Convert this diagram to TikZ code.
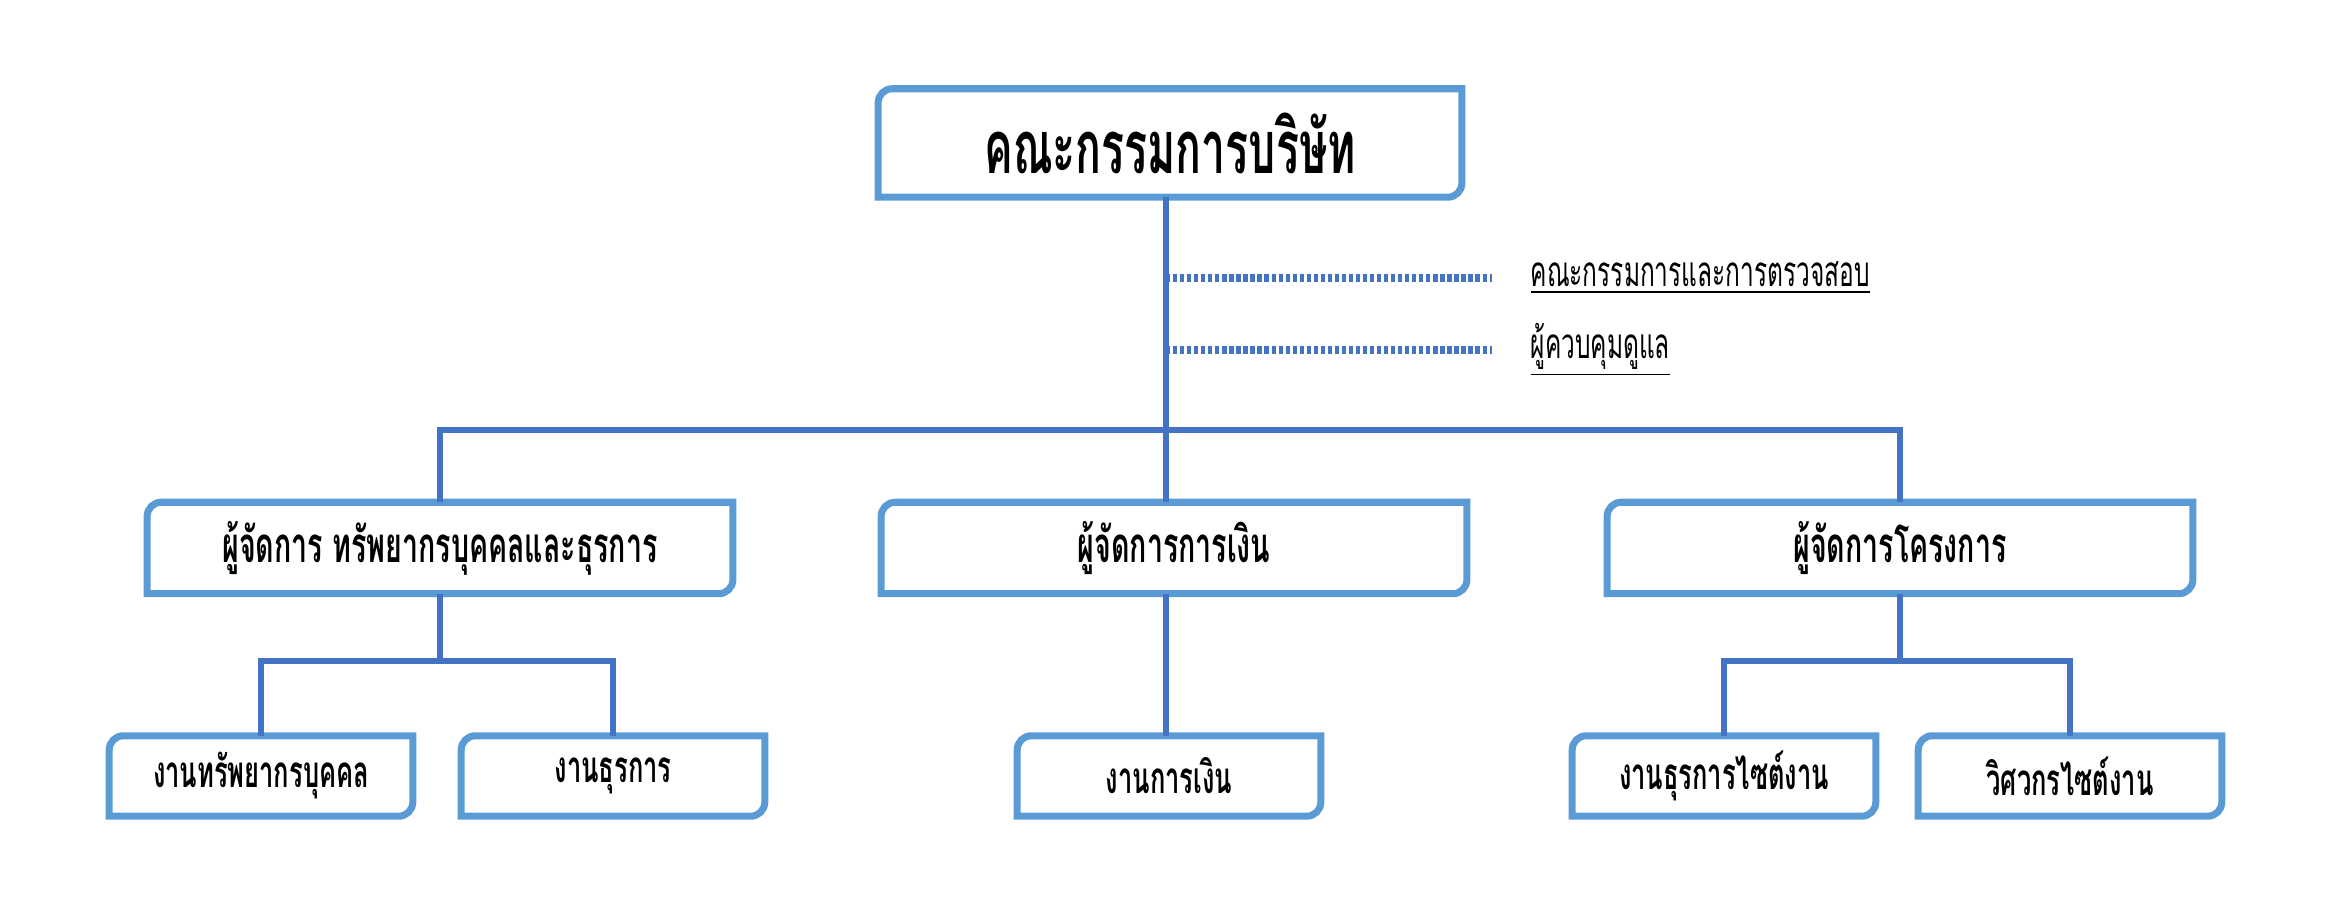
\documentclass[tikz,border=0pt]{standalone}
\usepackage{fontspec}
\usepackage{tikz}
\newfontfamily\thaifont[Script=Thai,FakeStretch=0.58]{Loma}
\definecolor{framecol}{HTML}{5B9BD5}
\definecolor{linkcol}{HTML}{4472C4}

\newcommand{\cutbox}[1]{\draw[frame] (#1.north east) -- ([yshift=4pt]#1.south east)
  arc[start angle=0,end angle=-90,radius=4pt] -- (#1.south west) -- ([yshift=-4pt]#1.north west)
  arc[start angle=180,end angle=90,radius=4pt] -- cycle;}

\begin{document}
\begin{tikzpicture}[x=0.01cm, y=0.01cm,
  frame/.style={draw=framecol, line width=2pt, line join=miter},
  link/.style={draw=linkcol, line width=1.6pt},
  dots/.style={draw=linkcol, line width=2pt, dash pattern=on 1.2pt off 0.8pt},
  topbox/.style={minimum width=5.82cm, minimum height=1.07cm, inner sep=0pt, font=\thaifont\bfseries\fontsize{21}{25}\selectfont},
  midbox/.style={minimum width=5.84cm, minimum height=0.90cm, inner sep=0pt, font=\thaifont\bfseries\fontsize{14}{17}\selectfont},
  lowbox/.style={minimum width=3.02cm, minimum height=0.79cm, inner sep=0pt, font=\thaifont\bfseries\fontsize{12.5}{15}\selectfont},
  note/.style={anchor=west, inner sep=0pt, font=\thaifont\fontsize{12}{14}\selectfont}]
 \useasboundingbox (0,0) rectangle (2339,900);
 % boxes
 \node[topbox] (board) at (1170,757) {คณะกรรมการบริษัท};
 \node[midbox] (hr) at (440,352) {ผู้จัดการ ทรัพยากรบุคคลและธุรการ};
 \node[midbox] (fin) at (1174,352) {ผู้จัดการการเงิน};
 \node[midbox] (proj) at (1900,352) {ผู้จัดการโครงการ};
 \node[lowbox] (hrw) at (261,124) {งานทรัพยากรบุคคล};
 \node[lowbox] (adm) at (613,124) {งานธุรการ};
 \node[lowbox] (finw) at (1169,124) {งานการเงิน};
 \node[lowbox] (site) at (1724,124) {งานธุรการไซต์งาน};
 \node[lowbox] (eng) at (2070,124) {วิศวกรไซต์งาน};
 \foreach \n in {board,hr,fin,proj,hrw,adm,finw,site,eng} {\cutbox{\n}}
 % side notes
 \node[note] (audit) at (1530,622) {\underline{คณะกรรมการและการตรวจสอบ}};
 \node[note] (care) at (1530,550) {\underline{ผู้ควบคุมดูแล}};
 \coordinate (bus) at (1166,470);
 \coordinate (subL) at (440,239);
 \coordinate (subR) at (1900,239);
 \draw[dots] (audit.west -| bus) -- ([xshift=-0.38cm]audit.west);
 \draw[dots] (care.west -| bus) -- ([xshift=-0.38cm]care.west);
 % connectors
 \draw[link] (board.south -| bus) -- (bus);
 \draw[link] (hr.north) |- (bus) -| (proj.north);
 \draw[link] (bus) -- (bus |- fin.north);
 \draw[link] (hr.south) -- (subL);
 \draw[link] (hrw.north) |- (subL) -| (adm.north);
 \draw[link] (fin.south -| bus) -- (bus |- finw.north);
 \draw[link] (proj.south) -- (subR);
 \draw[link] (site.north) |- (subR) -| (eng.north);
\end{tikzpicture}
\end{document}
